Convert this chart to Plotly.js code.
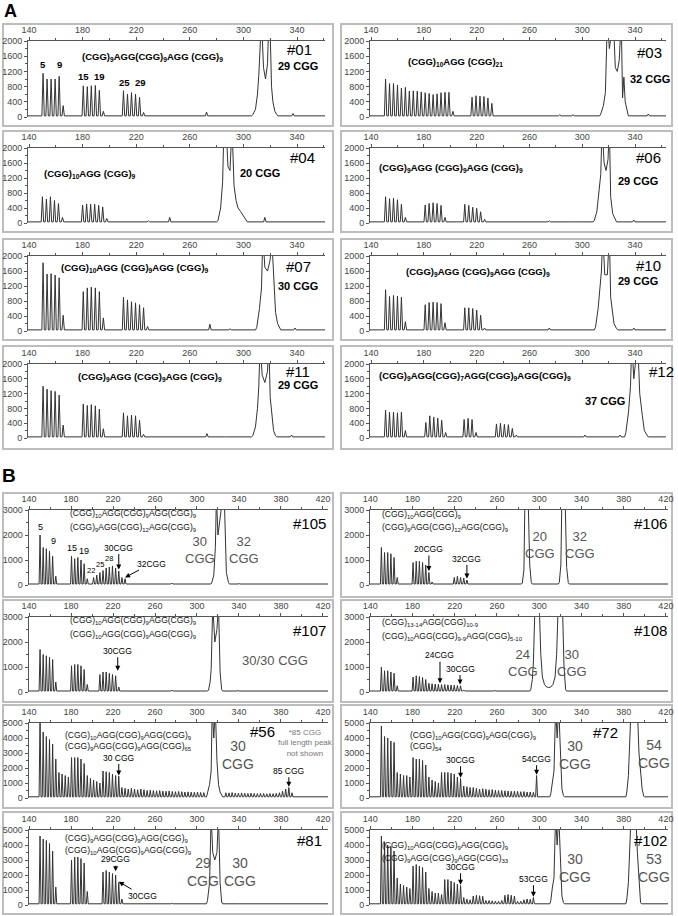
<!DOCTYPE html>
<html>
<head>
<meta charset="utf-8">
<script src="https://cdn.plot.ly/plotly-3.0.1.min.js"></script>
<style>
  html, body { margin: 0; padding: 0; background: #fff; }
  #chart { width: 678px; height: 916px; }
</style>
</head>
<body>
<div id="chart"></div>
<script>
"use strict";

// ---------- peaks: position (bp) / height (RFU) ----------

// #01
const x01 = [150.5,153.5,156.5,159.5,162.5,165.5, 180.5,183.5,186.5,189.5,192.5,195.5, 210.5,213.5,216.5,219.5,222.5,225.5, 272.5,
  307,309,310.5,311.5,312.5,313.5,315,316.5,318,319,320,321,322,323.5,325, 337];
const y01 = [1150,1000,1000,1000,1070,300, 820,800,820,830,700,150, 690,600,640,600,520,120, 130,
  60,200,600,1100,1800,2600,1300,1000,1400,2600,2200,800,400,150,60, 90];
// #03
const x03 = [151,154,157,160,163,166,169,172,175,178,181,184,187,190,193,196,199,202, 216.5,219.5,222.5,225.5,228.5,231.5, 283,293,
  314,316,317.5,319,320.5,322,323.5,325,326.5,328,329.5,330.5,331.5,332.5,334, 350];
const y03 = [1000,880,880,840,760,780,680,690,680,660,640,620,590,610,640,650,650,150, 520,560,550,540,500,360, 60,60,
  80,300,650,2600,1800,2600,2600,1300,1200,1500,2600,500,1050,400,100, 80];
// #04
const x04 = [150,153,156,159,162,165, 180,183,186,189,192,195,198, 229,245, 281,283,284.5,285.5,287,288.5,290,291.5,293,294.5,296,298,300,302, 316,325];
const y04 = [700,640,700,600,520,150, 480,510,500,500,470,430,120, 60,150, 60,400,1100,2600,2600,1500,1400,2600,1000,600,400,300,200,80, 150,50];
// #06
const x06 = [151,154,157,160,163,166, 181,184,187,190,193,196, 211,214,217,220,223,226, 275,295,
  309,311,313,314,315,316.5,318,319.5,320.5,321.5,323,325, 339];
const y06 = [700,650,660,620,500,150, 480,520,540,520,470,150, 500,470,420,390,300,100, 60,40,
  60,300,900,1300,2600,1600,1400,1700,2600,700,250,60, 80];
// #07
const x07 = [150.5,153.5,156.5,159.5,162.5,165.5, 180.5,183.5,186.5,189.5,192.5,195.5, 210.5,213.5,216.5,219.5,222.5,225.5,228.5, 275,290,
  310,312,313.5,314.5,316,318,320,321,322,323,324,325.5,327, 338.5];
const y07 = [1820,1520,1530,1490,1420,420, 1050,1150,1170,1150,1050,350, 900,830,780,750,700,620,120, 180,60,
  100,600,1150,2600,1700,1600,1900,2600,1800,1250,500,200,60, 80];
// #10
const x10 = [151,154,157,160,163,166, 181,184,187,190,193,196, 211,214,217,220,223,226, 275,
  310,312,313.5,314.5,315.5,317,319,320.5,321.5,322.5,324,326, 339];
const y10 = [1100,920,950,930,900,250, 700,760,770,760,730,220, 620,620,600,560,420,80, 80,
  100,600,1100,1600,2600,1500,1500,2600,900,600,200,60, 80];
// #11
const x11 = [150.5,153.5,156.5,159.5,162.5,165.5, 180.5,183.5,186.5,189.5,192.5,195.5, 210.5,213.5,216.5,219.5,222.5,225.5, 272.8,287.5,
  307,309,310.5,311.5,312.5,314,316,318,319,320,321,322.5,324, 336];
const y11 = [1400,1320,1280,1260,1160,350, 920,880,900,870,780,250, 680,600,620,600,480,100, 120,40,
  60,300,800,1400,2600,1700,1500,1800,2600,1100,700,200,60, 80];
// #12
const x12 = [151,154,157,160,163,166, 181.5,184.5,187.5,190.5,193.5,196.5, 210.5,213.5,216.5,219.5, 235,238,241,244,247,250, 293,302,328.6,
  333,335,336.5,337.5,339,340.5,342,343.5,344.5,345.5,347,349];
const y12 = [750,700,700,680,700,200, 420,600,560,540,480,150, 500,530,500,150, 380,400,370,360,260,80, 50,80,80,
  150,700,1400,2600,1600,2600,2600,1200,800,600,200,60];

// #105
const x105 = [150.5,153.5,156.5,159.5,162.5,165.5, 180.5,183.5,186.5,189.5,192.5,195.5, 201.5,204.5,207.5,210.5,213.5,216.5,219.5,222.5,225.5,228.5,231.5, 276,
  314,316,317.5,318.5,320,321.5,323,324.5,326,327,328,330, 340];
const y105 = [2000,1500,1450,1350,1150,350, 1150,1050,1100,1000,850,250, 300,400,500,580,680,720,760,680,560,300,250, 80,
  80,400,1500,3500,2000,2500,3500,3500,3500,1500,500,100, 60];
// #106
const x106 = [150.5,153.5,156.5,159.5,162.5,165.5, 180.5,183.5,186.5,189.5,192.5,195.5,198.5, 219.5,222.5,225.5,228.5,231.5,
  284,285.5,286.5,288,289.5,291,292.5, 319,320.5,321.5,323,324.5,326,327.5];
const y106 = [1500,1300,1300,1250,1100,300, 900,950,950,900,800,500,120, 300,350,300,280,200,
  80,600,3500,3500,3500,800,100, 100,800,3500,3500,3500,700,100];
// #107
const x107 = [150.5,153.5,156.5,159.5,162.5,165.5, 180.5,183.5,186.5,189.5,192.5,195.5, 207.5,210.5,213.5,216.5,219.5,222.5,225.5, 276,
  311,312.5,313.5,315,317,319,320.5,322,323.5, 339];
const y107 = [1700,1500,1450,1400,1300,400, 1050,1100,1100,1050,900,300, 700,800,800,750,700,650,200, 80,
  80,400,900,3500,2000,2500,3500,800,100, 60];
// #108
const x108 = [150.5,153.5,156.5,159.5,162.5,165.5, 180.5,183.5,186.5,189.5,192.5, 195.5,198.5,201.5,204.5,207.5,210.5,213.5,216.5,219.5,222.5,225.5,228.5, 258,275,
  292,293.5,294.5,296,298,300,301.5,303,305,307,309,311,313,315,316.5,318,320,322,323.5,325, 340];
const y108 = [1000,850,850,800,750,250, 600,650,620,580,500, 350,330,320,310,300,300,290,280,270,260,250,80, 60,60,
  100,500,1200,3500,3500,3500,1500,600,300,200,180,200,300,600,1500,3500,3500,3500,1000,100, 60];
// #56
const x56 = [150.5,153.5,156.5,159.5,162.5,165.5,168.5,171.5,174.5,177.5,180.5,183.5,186.5,189.5,192.5,195.5,198.5,201.5,204.5,207.5,
  210.5,213.5,216.5,219.5,222.5,225.5,228.5,231.5,234.5,237.5,240.5,243.5,246.5,249.5,252.5,255.5,258.5,261.5,264.5,267.5,
  270.5,273.5,276.5,279.5,282.5,285.5,288.5,291.5,294.5,297.5,300.5,303.5,306.5,
  310,312,313.5,314.5,316,317.5,319,320.5,322,323.5,
  327.5,330.5,333.5,336.5,339.5,342.5,345.5,348.5,351.5,354.5,357.5,360.5,363.5,366.5,369.5,372.5,375.5,378.5,381.5,384.5,387.5,390.5];
const y56 = [5600,4400,4100,3900,3600,2600,1700,1600,1500,1400,2700,2700,2700,2600,2300,1500,1300,1200,1100,1000,
  1800,1750,1700,1600,1500,1450,700,650,600,650,600,550,600,550,500,520,500,480,500,460,
  450,470,440,420,440,420,400,410,390,380,390,370,360,
  400,900,1800,6000,4000,6000,2500,900,400,200,
  350,340,360,330,320,340,310,300,320,300,290,310,300,280,300,290,310,350,450,600,700,350];
// #72
const x72 = [150.5,153.5,156.5,159.5,162.5,165.5,168.5,171.5,174.5,177.5,180.5,183.5,186.5,189.5,192.5,195.5,198.5,201.5,204.5,
  207.5,210.5,213.5,216.5,219.5,222.5,225.5,228.5,231.5,234.5,237.5,240.5,243.5,246.5,249.5,252.5,255.5,258.5,261.5,264.5,
  267.5,270.5,273.5,276.5,279.5,282.5,285.5,288.5,291.5,294.5,297.5,
  311,312.5,314,315.5,317,318.5,320,321.5,323,
  383,384.5,385.5,387,388.5,390,391.5,393,394.5,396,397.5,399];
const y72 = [4800,4100,4000,3800,3700,1700,1600,1500,1500,1400,2700,2600,2600,2500,2200,1400,1200,1100,1000,
  1700,1700,1700,1650,1600,1400,1300,800,750,700,700,650,600,620,580,550,560,520,500,500,
  480,470,450,460,440,420,430,400,400,380,1500,
  300,1200,1800,6000,4000,6000,2500,600,150,
  400,1500,3900,6000,6000,6000,6000,6000,3000,2000,600,120];
// #81
const x81 = [150.5,153.5,156.5,159.5,162.5,165.5, 180.5,183.5,186.5,189.5,192.5,195.5, 210.5,213.5,216.5,219.5,222.5,225.5,228.5, 276,
  310,312,313.5,315,317,319,320.5,322,323.5, 339];
const y81 = [4600,4400,4300,4100,3600,1200, 3000,3200,3200,3100,2800,900, 2200,2300,2200,2100,2000,1500,400, 120,
  300,1500,6000,3500,3000,3500,6000,1500,200, 100];
// #102
const x102 = [150.5,153.5,156.5,159.5,162.5,165.5,168.5,171.5,174.5,177.5,180.5,183.5,186.5,189.5,192.5,195.5,198.5,201.5,204.5,207.5,
  210.5,213.5,216.5,219.5,222.5,225.5,228.5,231.5,234.5,237.5,240.5,243.5,246.5,249.5,252.5,255.5,258.5,261.5,264.5,267.5,270.5,273.5,276.5,279.5,282.5,285.5,288.5,291.5,294.5,
  311,312.5,314,315.5,317,318.5,320,321.5,323,
  383,384.5,385.5,387,388.5,390,391.5,393,394.5,396];
const y102 = [4600,4200,4000,3900,3600,1800,1400,1300,1200,1100,2600,2700,2600,2500,2200,1100,900,800,800,700,
  1700,1700,1600,1500,1400,1300,500,400,350,600,650,620,580,300,300,280,260,250,300,650,700,650,600,250,250,350,400,380,500,
  300,1200,1800,6000,4000,6000,2500,600,150,
  400,1500,4000,6000,6000,6000,6000,3500,1500,150];

// labels
const idA = ["#01", "#03", "#04", "#06", "#07", "#10", "#11", "#12"];
const sizeA = ["29 CGG", "32 CGG", "20 CGG", "29 CGG", "30 CGG", "29 CGG", "29 CGG", "37 CGG"];
const formA = [
  "(CGG)<sub>9</sub>AGG(CGG)<sub>9</sub>AGG (CGG)<sub>9</sub>",
  "(CGG)<sub>10</sub>AGG (CGG)<sub>21</sub>",
  "(CGG)<sub>10</sub>AGG (CGG)<sub>9</sub>",
  "(CGG)<sub>9</sub>AGG (CGG)<sub>9</sub>AGG (CGG)<sub>9</sub>",
  "(CGG)<sub>10</sub>AGG (CGG)<sub>9</sub>AGG (CGG)<sub>9</sub>",
  "(CGG)<sub>9</sub>AGG (CGG)<sub>9</sub>AGG (CGG)<sub>9</sub>",
  "(CGG)<sub>9</sub>AGG (CGG)<sub>9</sub>AGG (CGG)<sub>9</sub>",
  "(CGG)<sub>9</sub>AGG(CGG)<sub>7</sub>AGG(CGG)<sub>9</sub>AGG(CGG)<sub>9</sub>"
];
const idB = ["#105", "#106", "#107", "#108", "#56", "#72", "#81", "#102"];
const formB = [
  ["(CGG)<sub>10</sub>AGG(CGG)<sub>9</sub>AGG(CGG)<sub>9</sub>", "(CGG)<sub>9</sub>AGG(CGG)<sub>12</sub>AGG(CGG)<sub>9</sub>"],
  ["(CGG)<sub>10</sub>AGG(CGG)<sub>9</sub>", "(CGG)<sub>9</sub>AGG(CGG)<sub>12</sub>AGG(CGG)<sub>9</sub>"],
  ["(CGG)<sub>10</sub>AGG(CGG)<sub>9</sub>AGG(CGG)<sub>9</sub>", "(CGG)<sub>10</sub>AGG(CGG)<sub>9</sub>AGG(CGG)<sub>9</sub>"],
  ["(CGG)<sub>13-14</sub>AGG(CGG)<sub>10-9</sub>", "(CGG)<sub>10</sub>AGG(CGG)<sub>9-9</sub>AGG(CGG)<sub>5-10</sub>"],
  ["(CGG)<sub>10</sub>AGG(CGG)<sub>9</sub>AGG(CGG)<sub>9</sub>", "(CGG)<sub>9</sub>AGG(CGG)<sub>9</sub>AGG(CGG)<sub>65</sub>"],
  ["(CGG)<sub>10</sub>AGG(CGG)<sub>9</sub>AGG(CGG)<sub>9</sub>", "(CGG)<sub>54</sub>"],
  ["(CGG)<sub>9</sub>AGG(CGG)<sub>9</sub>AGG(CGG)<sub>9</sub>", "(CGG)<sub>10</sub>AGG(CGG)<sub>9</sub>AGG(CGG)<sub>9</sub>"],
  ["(CGG)<sub>10</sub>AGG(CGG)<sub>9</sub>AGG(CGG)<sub>9</sub>", "(CGG)<sub>9</sub>AGG(CGG)<sub>9</sub>AGG(CGG)<sub>33</sub>"]
];

// ---------- page geometry (px) ----------
const W = 678, H = 916;
const FONT = "Liberation Sans, Arial, sans-serif";
const NARROW = "Liberation Sans Narrow, Liberation Sans, Arial";
const TICKFONT = {family: NARROW, size: 9, color: "#444"};

// [left px, right px, range lo, range hi]
const colA = [[28, 325, 139.25, 360.9], [370, 666, 139.2, 363.4]];
const colB = [[28.5, 328, 139.5, 424.8], [370, 668, 139.7, 422]];
// [top px (max), bottom px (0)]
const rowA = [[41, 117], [148, 223], [256, 331], [364, 438]];
const rowB = [[510, 585], [617, 692], [723, 798], [830, 905]];
const frameX = [[3, 333], [341, 672]];
const frameA = [[24, 126], [131, 232], [239, 340], [346, 449]];
const frameB = [[493, 597], [600, 702], [705, 808], [812, 914]];

function buildTrace(xs, ys, base, x0, x1) {
  let pts = xs.map(function (x, i) { return [x, ys[i]]; }).sort(function (a, b) { return a[0] - b[0]; });
  let X = [x0], Y = [base];
  for (let i = 0; i < pts.length; i++) {
    let p = pts[i];
    if (i === 0 || p[0] - pts[i - 1][0] > 2) { X.push(p[0] - 0.9); Y.push(base); }
    X.push(p[0]); Y.push(p[1]);
    if (i === pts.length - 1 || pts[i + 1][0] - p[0] > 2) { X.push(p[0] + 0.9); Y.push(base); }
  }
  X.push(x1); Y.push(base);
  return {X: X, Y: Y};
}

let data = [], layout = {
  width: W, height: H,
  margin: {l: 0, r: 0, t: 0, b: 0},
  paper_bgcolor: "#fff", plot_bgcolor: "#fff",
  showlegend: false,
  font: {family: FONT, color: "#000"},
  shapes: [], annotations: []
};

function note(px, py, text, size, extra) {
  let a = Object.assign({
    xref: "paper", yref: "paper", x: px / W, y: 1 - py / H,
    text: text, showarrow: false, xanchor: "center", yanchor: "middle",
    font: {family: FONT, size: size, color: "#000"}
  }, extra || {});
  layout.annotations.push(a);
}

function onPeak(n, x, y, text, size) {
  layout.annotations.push({
    xref: "x" + n, yref: "y" + n, x: x, y: y, text: text, showarrow: false,
    yanchor: "bottom", font: {family: FONT, size: size, color: "#000"}
  });
}

function arrowTo(n, x, y, text, ax, ay) {
  layout.annotations.push({
    xref: "x" + n, yref: "y" + n, x: x, y: y, text: text,
    showarrow: true, arrowhead: 2, arrowsize: 1, arrowwidth: 1, arrowcolor: "#000",
    ax: ax, ay: ay, standoff: 0,
    font: {family: NARROW, size: 8.5, color: "#000"}
  });
}

function panel(n, xs, ys, col, c, row, frameY, yMax, yStep, base) {
  let t = buildTrace(xs, ys, base, col[2], col[3]);
  data.push({
    x: t.X, y: t.Y, type: "scatter", mode: "lines",
    line: {color: "#333", width: 1}, hoverinfo: "skip",
    xaxis: "x" + n, yaxis: "y" + n
  });
  let sfx = n === 1 ? "" : n;
  layout["xaxis" + sfx] = {
    domain: [col[0] / W, col[1] / W], range: [col[2], col[3]],
    anchor: "y" + n, side: "top",
    tick0: 140, dtick: 40, ticks: "outside", ticklen: 3, tickcolor: "#555",
    minor: {dtick: 20, ticks: "outside", ticklen: 2, tickcolor: "#555"},
    showline: true, linecolor: "#555", linewidth: 1,
    showgrid: false, zeroline: false, tickfont: TICKFONT, fixedrange: true
  };
  layout["yaxis" + sfx] = {
    domain: [1 - row[1] / H, 1 - row[0] / H], range: [0, yMax],
    anchor: "x" + n, dtick: yStep, ticks: "outside", ticklen: 3, tickcolor: "#555",
    minor: {dtick: yStep / 2, ticks: "outside", ticklen: 2, tickcolor: "#555"},
    showline: true, linecolor: "#555", linewidth: 1,
    showgrid: false, zeroline: false, tickfont: TICKFONT, fixedrange: true
  };
  layout.shapes.push({
    type: "rect", xref: "paper", yref: "paper", layer: "below",
    x0: frameX[c][0] / W, x1: frameX[c][1] / W,
    y0: 1 - frameY[1] / H, y1: 1 - frameY[0] / H,
    line: {color: "#bdbdbd", width: 2}
  });
}

// ---------- panel A ----------
const dataA = [[x01, y01], [x03, y03], [x04, y04], [x06, y06], [x07, y07], [x10, y10], [x11, y11], [x12, y12]];
dataA.forEach(function (d, i) {
  let c = i % 2, r = Math.floor(i / 2);
  panel(i + 1, d[0], d[1], colA[c], c, rowA[r], frameA[r], 2000, 400, 30);
});

// ---------- panel B ----------
const dataB = [[x105, y105], [x106, y106], [x107, y107], [x108, y108], [x56, y56], [x72, y72], [x81, y81], [x102, y102]];
dataB.forEach(function (d, i) {
  let c = i % 2, r = Math.floor(i / 2);
  let tall = r >= 2;
  panel(i + 9, d[0], d[1], colB[c], c, rowB[r], frameB[r], tall ? 5000 : 3000, 1000, tall ? 80 : 40);
});

// ---------- text ----------
note(10, 11, "<b>A</b>", 18);
note(9, 475, "<b>B</b>", 19);

// A: sample id, allele size, structure  [id x,y | size x,y | formula x,y]
const posA = [
  [299, 50, 298, 66, 152, 57],
  [649, 52, 650, 79, 455, 62],
  [302, 157, 260, 173, 90, 174],
  [648, 157, 638, 181, 451, 168],
  [298, 267, 298, 286, 135, 268],
  [648, 265, 638, 281, 478, 272],
  [298, 372, 298, 385, 150, 377],
  [661, 372, 605, 401, 475, 376]
];
posA.forEach(function (p, i) {
  note(p[0], p[1], idA[i], 15);
  note(p[2], p[3], "<b>" + sizeA[i] + "</b>", 11);
  note(p[4], p[5], "<b>" + formA[i] + "</b>", 9.5);
});
// repeat numbers over #01
onPeak(1, 150.5, 1180, "<b>5</b>", 9.5);
onPeak(1, 163, 1180, "<b>9</b>", 9.5);
onPeak(1, 181, 860, "<b>15</b>", 9.5);
onPeak(1, 192.5, 860, "<b>19</b>", 9.5);
onPeak(1, 211.5, 720, "<b>25</b>", 9.5);
onPeak(1, 223.5, 720, "<b>29</b>", 9.5);

// B: id, structure lines
const posB = [
  [309, 523, 68, 513, 527],
  [650, 523, 380, 514, 527],
  [309, 630, 68, 620, 634],
  [650, 630, 380, 622, 636],
  [262, 731, 63, 735, 746],
  [605, 732, 408, 735, 746],
  [309, 840, 63, 838, 850],
  [650, 840, 380, 845, 858]
];
posB.forEach(function (p, i) {
  note(p[0], p[1], idB[i], 15);
  note(p[2], p[3], formB[i][0], 8.5, {xanchor: "left", font: {family: FONT, size: 8.5, color: "#111"}});
  note(p[2], p[4], formB[i][1], 8.5, {xanchor: "left", font: {family: FONT, size: 8.5, color: "#111"}});
});

function big(px, py, text, size) {
  note(px, py, text, size || 13, {font: {family: FONT, size: size || 13, color: "#555"}});
}
// #105
onPeak(9, 151, 2050, "5", 9);
onPeak(9, 163, 1500, "9", 9);
onPeak(9, 181, 1200, "15", 9);
onPeak(9, 192, 1100, "19", 9);
onPeak(9, 199, 330, "22", 7.5);
onPeak(9, 208, 560, "25", 7.5);
onPeak(9, 216.5, 800, "28", 7.5);
arrowTo(9, 225.5, 620, "30CGG", 0, -22);
arrowTo(9, 231.5, 300, "32CGG", 26, -14);
big(200, 550, "30<br>CGG");
big(244, 550, "32<br>CGG");
// #106
arrowTo(10, 195.5, 560, "20CGG", 0, -22);
arrowTo(10, 231.5, 260, "32CGG", 0, -20);
big(540, 545, "20<br>CGG");
big(580, 545, "32<br>CGG");
// #107
arrowTo(11, 224.5, 850, "30CGG", 0, -20);
big(275, 660, "30/30 CGG");
// #108
arrowTo(12, 206, 350, "24CGG", 0, -28);
arrowTo(12, 225, 300, "30CGG", 0, -16);
big(523, 663, "24<br>CGG");
big(572, 663, "30<br>CGG");
// #56
arrowTo(13, 225.5, 1500, "30 CGG", 0, -18);
arrowTo(13, 387.5, 750, "85 CGG", 0, -16);
big(238, 755, "30<br>CGG", 14);
note(305, 743, "*85 CGG<br>full length peak<br>not shown", 8, {font: {family: FONT, size: 8, color: "#777"}});
// #72
arrowTo(14, 225.5, 1350, "30CGG", 0, -18);
arrowTo(14, 297.5, 1550, "54CGG", 0, -16);
big(575, 755, "30<br>CGG", 14);
big(654, 754, "54<br>CGG", 14);
// #81
arrowTo(15, 222.5, 2250, "29CGG", 0, -12);
arrowTo(15, 225.5, 1550, "30CGG", 24, 14);
big(203, 872, "29<br>CGG", 14);
big(240, 872, "30<br>CGG", 14);
// #102
arrowTo(16, 225.5, 1350, "30CGG", 0, -18);
arrowTo(16, 294.5, 550, "53CGG", 0, -18);
big(575, 868, "30<br>CGG", 14);
big(654, 868, "53<br>CGG", 14);

Plotly.newPlot("chart", data, layout, {staticPlot: true, displayModeBar: false});
</script>
</body>
</html>
